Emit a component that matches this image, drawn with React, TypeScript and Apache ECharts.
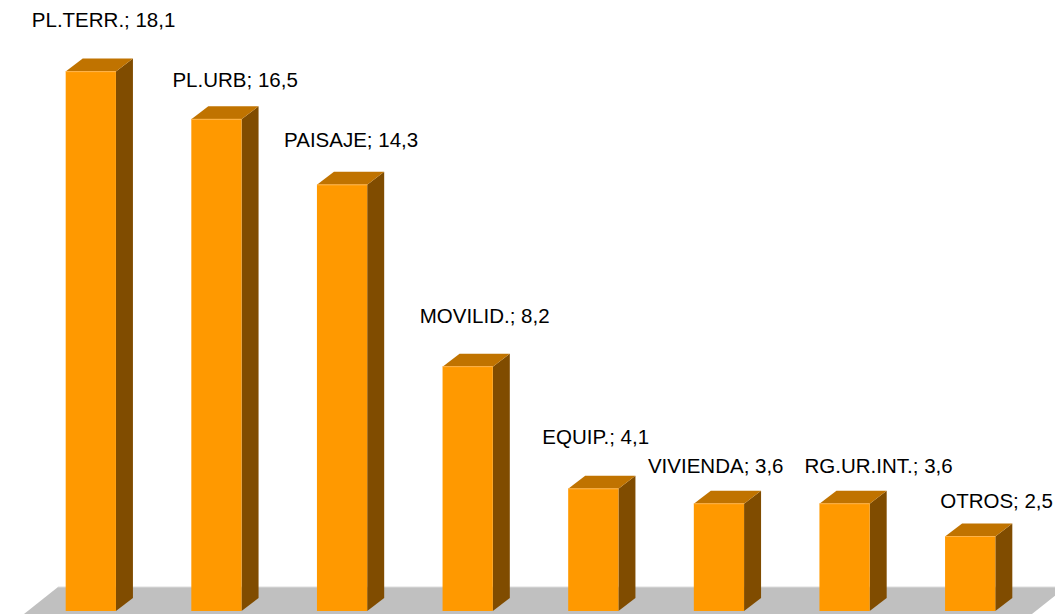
import React, { useEffect, useRef } from "react";
import * as echarts from "echarts";

const categories = ["PL.TERR.", "PL.URB", "PAISAJE", "MOVILID.", "EQUIP.", "VIVIENDA", "RG.UR.INT.", "OTROS"];
const values = [18.1, 16.5, 14.3, 8.2, 4.1, 3.6, 3.6, 2.5];

// label placement (px, relative to bar centre / bar top), as in the original
const labelDx = [-59, -44, -58, -48, -51, -71, -40, -30];
const labelDy = [-52, -40, -45, -51, -52, -38, -38, -36];

const DEPTH_X = 17;
const DEPTH_Y = 13;

export default function App() {
  const ref = useRef<HTMLDivElement>(null);
  useEffect(() => {
    document.body.style.margin = "0";
    const chart = echarts.init(ref.current!, null, { renderer: "svg" });
    const data = values.map((v, i) => [i, v]);
    chart.setOption({
      animation: false,
      grid: { left: 28, right: 22, top: 15, bottom: 3 },
      xAxis: { type: "category", data: categories, show: false },
      yAxis: { type: "value", min: 0, max: 20, show: false },
      series: [
        {
          type: "custom",
          z: 1,
          data: [[0, 0]],
          renderItem: (params: any, api: any) => {
            const cs = params.coordSys;
            const y0 = api.coord([0, 0])[1];
            const topY = y0 - 24;
            const botY = y0 + 3;
            const slope = 34 / 27;
            const tl = cs.x + 30;
            const tr = cs.x + cs.width + 33;
            return {
              type: "group",
              children: [
                {
                  type: "polygon",
                  shape: {
                    points: [
                      [tl, topY],
                      [tr, topY],
                      [tr - (botY - topY) * slope, botY],
                      [tl - (botY - topY) * slope, botY],
                    ],
                  },
                  style: { fill: "#c0c0c0" },
                },
                {
                  type: "line",
                  shape: { x1: tl, y1: topY, x2: tr, y2: topY },
                  style: { stroke: "#dcdcdc", lineWidth: 1 },
                },
              ],
            };
          },
        },
        {
          type: "custom",
          z: 2,
          data,
          renderItem: (params: any, api: any) => {
            const idx = params.dataIndex;
            const i = api.value(0);
            const v = api.value(1);
            const top = api.coord([i, v]);
            const base = api.coord([i, 0]);
            const hw = api.size([1, 0])[0] * 0.2;
            const x = top[0];
            const ty = top[1];
            const by = base[1];
            const label = `${categories[idx]}; ${v.toFixed(1).replace(".", ",")}`;
            return {
              type: "group",
              children: [
                {
                  type: "polygon",
                  shape: {
                    points: [
                      [x + hw, ty],
                      [x + hw + DEPTH_X, ty - DEPTH_Y],
                      [x + hw + DEPTH_X, by - DEPTH_Y],
                      [x + hw, by],
                    ],
                  },
                  style: { fill: "#804c00" },
                },
                {
                  type: "polygon",
                  shape: {
                    points: [
                      [x - hw, ty],
                      [x - hw + DEPTH_X, ty - DEPTH_Y],
                      [x + hw + DEPTH_X, ty - DEPTH_Y],
                      [x + hw, ty],
                    ],
                  },
                  style: { fill: "#c07300" },
                },
                {
                  type: "rect",
                  shape: { x: x - hw, y: ty, width: hw * 2, height: by - ty },
                  style: { fill: "#ff9900" },
                },
                {
                  type: "line",
                  shape: { x1: x - hw, y1: ty, x2: x + hw, y2: ty },
                  style: { stroke: "#ffb347", lineWidth: 1 },
                },
                {
                  type: "text",
                  style: {
                    text: label,
                    x: x + labelDx[idx],
                    y: ty + labelDy[idx],
                    fontSize: 20.5,
                    fontFamily: "'Liberation Sans', Arial, sans-serif",
                    fill: "#000",
                    align: "left",
                    verticalAlign: "middle",
                  },
                },
              ],
            };
          },
        },
      ],
    });
    return () => chart.dispose();
  }, []);
  return <div ref={ref} style={{ width: 1055, height: 614 }} />;
}
